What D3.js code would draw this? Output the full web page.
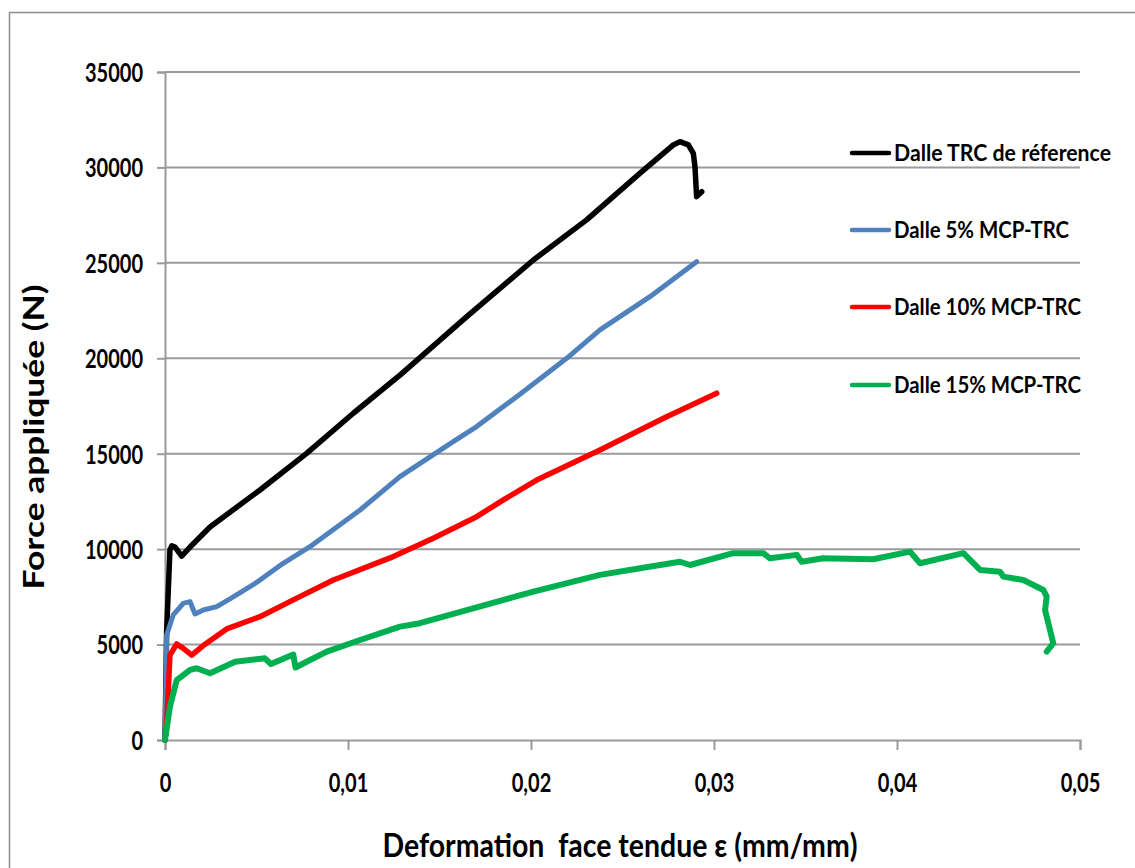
<!DOCTYPE html>
<html>
<head>
<meta charset="utf-8">
<script src="https://cdn.jsdelivr.net/npm/d3@7"></script>
<style>
  html, body { margin: 0; padding: 0; background: #fff; }
  svg text { font-family: Lato, "Open Sans", sans-serif; font-weight: bold; fill: #000; white-space: pre; }
</style>
</head>
<body>
<svg id="chart" width="1135" height="868"></svg>
<script>
// ---- DATA ----
const seriesNames = ["Dalle TRC de réference", "Dalle 5% MCP-TRC", "Dalle 10% MCP-TRC", "Dalle 15% MCP-TRC"];
const seriesColors = ["#000000", "#4f81bd", "#ff0000", "#00b050"];

const refStrain = [0, 0.00009, 0.00027, 0.00037, 0.00055, 0.00091, 0.00137, 0.00246, 0.00519, 0.00774, 0.01029, 0.01284, 0.01649, 0.02013, 0.02304, 0.02596, 0.02778, 0.02814, 0.0286, 0.02887, 0.02896, 0.02905, 0.02933];
const refForce  = [0, 5760, 9960, 10170, 10110, 9640, 10110, 11160, 13100, 15020, 17120, 19120, 22180, 25150, 27250, 29700, 31180, 31350, 31180, 30740, 30040, 28470, 28730];

const mcp5Strain = [0, 0.00009, 0.00045, 0.001, 0.00137, 0.00155, 0.00164, 0.00209, 0.00283, 0.00355, 0.00464, 0.00519, 0.00646, 0.00792, 0.01066, 0.01284, 0.01575, 0.01703, 0.01922, 0.02195, 0.02377, 0.0265, 0.02905];
const mcp5Force  = [0, 5500, 6550, 7160, 7250, 6810, 6600, 6810, 6990, 7390, 8030, 8380, 9260, 10130, 12050, 13800, 15630, 16420, 17990, 20000, 21490, 23230, 25060];

const mcp10Strain = [0, 0.00009, 0.00027, 0.00064, 0.001, 0.00146, 0.00209, 0.00337, 0.00519, 0.00701, 0.0092, 0.0123, 0.01466, 0.01703, 0.01849, 0.02031, 0.02377, 0.02741, 0.03015];
const mcp10Force  = [0, 700, 4450, 5030, 4800, 4450, 4950, 5820, 6460, 7340, 8380, 9540, 10570, 11700, 12580, 13620, 15200, 16940, 18170];

const mcp15Strain = [0, 0.00027, 0.00064, 0.00137, 0.00173, 0.00246, 0.00383, 0.00546, 0.00579, 0.00701, 0.00713, 0.00774, 0.00884, 0.01066, 0.01284, 0.01393, 0.01649, 0.02013, 0.02377, 0.02596, 0.02814, 0.02869, 0.03105, 0.03269, 0.03306, 0.03452, 0.03479, 0.03597, 0.0387, 0.04071, 0.04126, 0.04363, 0.04454, 0.04563, 0.04581, 0.0469, 0.048, 0.04818, 0.04809, 0.04854, 0.04818];
const mcp15Force  = [0, 1750, 3140, 3670, 3760, 3500, 4100, 4280, 3980, 4480, 3800, 4100, 4630, 5240, 5940, 6120, 6810, 7770, 8650, 9000, 9340, 9170, 9790, 9790, 9520, 9700, 9340, 9520, 9470, 9870, 9260, 9790, 8910, 8820, 8560, 8380, 7860, 7510, 6810, 5070, 4630];

const xTicks = [0, 0.01, 0.02, 0.03, 0.04, 0.05];
const xTickLabels = ["0", "0,01", "0,02", "0,03", "0,04", "0,05"];
const yTicks = [0, 5000, 10000, 15000, 20000, 25000, 30000, 35000];
const yTickLabels = ["0", "5000", "10000", "15000", "20000", "25000", "30000", "35000"];

const xTitle = "Deformation  face tendue ε (mm/mm)";
const yTitle = "Force appliquée (N)";

// ---- CHART ----
const svg = d3.select("#chart");
const x = d3.scaleLinear().domain([0, 0.05]).range([165, 1080]);
const y = d3.scaleLinear().domain([0, 35000]).range([740, 72]);

function squeeze(sel, factor) {
  sel.each(function () {
    const len = this.getComputedTextLength();
    d3.select(this).attr("textLength", len * factor).attr("lengthAdjust", "spacingAndGlyphs");
  });
}
function fitWidth(sel, w) {
  sel.attr("textLength", w).attr("lengthAdjust", "spacingAndGlyphs");
}

// outer border
svg.append("rect").attr("x", 9.5).attr("y", 12.5).attr("width", 1140).attr("height", 900)
  .attr("fill", "none").attr("stroke", "#8c8c8c").attr("stroke-width", 1.5);

const gridColor = "#9a9a9a";
svg.append("g").selectAll("line").data(yTicks.filter(d => d > 0)).join("line")
  .attr("x1", x(0)).attr("x2", x(0.05))
  .attr("y1", d => y(d)).attr("y2", d => y(d))
  .attr("stroke", gridColor).attr("stroke-width", 2);

const yAxis = d3.axisLeft(y).tickValues(yTicks).tickSize(8).tickFormat((d, i) => yTickLabels[i]);
const gy = svg.append("g").attr("transform", `translate(${x(0)},0)`).call(yAxis);
gy.select(".domain").attr("stroke", gridColor).attr("stroke-width", 2);
gy.selectAll(".tick line").attr("stroke", gridColor).attr("stroke-width", 2);
gy.selectAll(".tick text").attr("x", -22).attr("dy", "0.36em")
  .style("font-size", "26px").style("font-family", "Lato, sans-serif").style("font-weight", "bold").attr("fill", "#000");

const xAxis = d3.axisBottom(x).tickValues(xTicks).tickSize(10).tickFormat((d, i) => xTickLabels[i]);
const gx = svg.append("g").attr("transform", `translate(0,${y(0)})`).call(xAxis);
gx.select(".domain").attr("stroke", gridColor).attr("stroke-width", 2);
gx.selectAll(".tick line").attr("stroke", gridColor).attr("stroke-width", 2);
gx.selectAll(".tick text").attr("y", 52).attr("dy", 0)
  .style("font-size", "26px").style("font-family", "Lato, sans-serif").style("font-weight", "bold").attr("fill", "#000");

const tickFactor = 58 / gy.selectAll(".tick text").filter((d) => d === 35000).node().getComputedTextLength();
squeeze(gy.selectAll(".tick text"), tickFactor);
squeeze(gx.selectAll(".tick text"), tickFactor);

const series = [
  { xs: refStrain, ys: refForce, w: 5.5 },
  { xs: mcp5Strain, ys: mcp5Force, w: 5 },
  { xs: mcp10Strain, ys: mcp10Force, w: 5.5 },
  { xs: mcp15Strain, ys: mcp15Force, w: 6 }
];
const line = d3.line().x(d => x(d[0])).y(d => y(d[1]));
series.forEach((s, i) => {
  const pts = s.xs.map((v, j) => [v, s.ys[j]]);
  svg.append("path").datum(pts).attr("d", line)
    .attr("fill", "none").attr("stroke", seriesColors[i]).attr("stroke-width", s.w)
    .attr("stroke-linejoin", "round").attr("stroke-linecap", "round");
});

const legendY = [153, 230, 307, 385];
const legendW = [217, 175, 187, 187];
const lg = svg.append("g");
seriesNames.forEach((name, i) => {
  lg.append("line").attr("x1", 852).attr("x2", 889).attr("y1", legendY[i]).attr("y2", legendY[i])
    .attr("stroke", seriesColors[i]).attr("stroke-width", 4.5).attr("stroke-linecap", "round");
  const t = lg.append("text").attr("x", 894).attr("y", legendY[i] + 8)
    .style("font-size", "23px").text(name);
  fitWidth(t, legendW[i]);
});

const xt = svg.append("text").attr("x", 620).attr("y", 857).attr("text-anchor", "middle")
  .style("font-size", "32px").text(xTitle);
fitWidth(xt, 475);
const yt = svg.append("text").attr("transform", "translate(44,437) rotate(-90)").attr("text-anchor", "middle")
  .style("font-size", "28px").text(yTitle);
fitWidth(yt, 305);
</script>
</body>
</html>
